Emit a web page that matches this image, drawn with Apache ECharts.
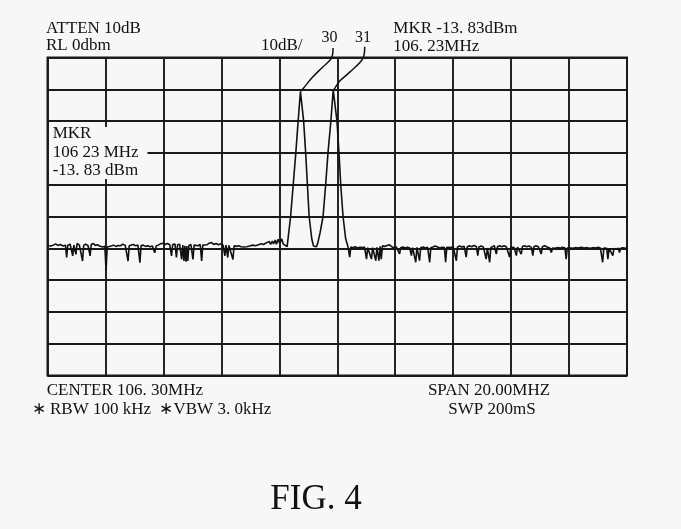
<!DOCTYPE html>
<html>
<head>
<meta charset="utf-8">
<script src="https://cdn.jsdelivr.net/npm/echarts@6/dist/echarts.min.js"></script>
<style>
html,body{margin:0;padding:0;background:#f7f7f7;}
#chart{width:681px;height:529px;}
</style>
</head>
<body>
<div id="chart"></div>
<script>
// ---- Instrument settings ----
const CENTER_MHZ = 106.30;
const SPAN_MHZ = 20;
const REF_LEVEL_DBM = 0;
const DB_PER_DIV = 10;
const X_DIVS = 10;
const Y_DIVS = 10;

// ---- Trace: [frequency MHz, level dBm] ----
const noiseLeft = [
[96.30,-59.2],[96.36,-58.8],[96.42,-59.3],[96.50,-59.0],[96.58,-58.6],[96.66,-59.1],[96.74,-58.8],[96.84,-59.3],[96.92,-59.0],[96.96,-62.9],[97.00,-59.0],[97.08,-58.7],[97.14,-59.2],[97.17,-62.4],[97.21,-59.0],[97.25,-58.9],[97.28,-61.9],[97.32,-58.5],[97.40,-59.0],[97.46,-58.6],[97.51,-64.0],[97.55,-59.0],[97.62,-58.7],[97.70,-59.2],[97.77,-62.4],[97.81,-58.8],[97.88,-58.5],[97.95,-59.1],[98.02,-58.9],[98.10,-59.3],[98.20,-59.6],[98.28,-59.4],[98.32,-67.1],[98.36,-59.6],[98.42,-59.1],[98.50,-59.3],[98.58,-59.0],[98.66,-59.4],[98.74,-59.1],[98.82,-59.2],[98.90,-58.7],[98.98,-59.0],[99.04,-59.3],[99.08,-64.0],[99.12,-59.2],[99.18,-59.0],[99.26,-58.8],[99.34,-59.2],[99.42,-59.0],[99.49,-64.5],[99.53,-59.1],[99.60,-59.0],[99.68,-59.4],[99.76,-59.2],[99.84,-59.5],[99.92,-59.3],[100.00,-61.4],[100.05,-59.3],[100.12,-59.0],[100.20,-58.6],[100.28,-58.4],[100.36,-58.8],[100.44,-58.5],[100.52,-58.9],[100.58,-62.4],[100.62,-58.8],[100.70,-58.7],[100.75,-62.9],[100.79,-58.9],[100.86,-58.7],[100.93,-63.5],[100.97,-59.0],[101.01,-64.0],[101.04,-59.2],[101.08,-64.2],[101.11,-59.3],[101.14,-64.0],[101.18,-59.1],[101.25,-58.8],[101.32,-63.5],[101.36,-59.0],[101.42,-58.9],[101.50,-59.2],[101.57,-58.8],[101.62,-64.0],[101.66,-59.0],[101.72,-58.7],[101.80,-58.9],[101.88,-58.4],[101.96,-58.2],[102.04,-58.8],[102.12,-58.5],[102.20,-58.9],[102.28,-58.6],[102.36,-59.0],[102.42,-62.4],[102.46,-59.0],[102.52,-62.9],[102.56,-59.1],[102.62,-59.0],[102.70,-63.5],[102.74,-59.2],[102.82,-59.4],[102.90,-59.2],[102.98,-59.5],[103.08,-59.6],[103.18,-59.5],[103.28,-59.3],[103.38,-59.0],[103.48,-59.2],[103.58,-58.9],[103.68,-58.6],[103.76,-58.8],[103.84,-58.3],[103.90,-58.7],[103.96,-57.9],[104.00,-58.8],[104.06,-57.7],[104.10,-58.6],[104.16,-57.4],[104.20,-58.7],[104.26,-57.2],[104.32,-58.5],[104.38,-57.0],[104.44,-58.7],[104.50,-58.9]
];
const signalPeaks = [
[104.57,-59.5],[104.69,-50],[104.78,-40],[104.87,-30],[104.95,-20],[105.03,-10.7],[105.14,-20],[105.21,-30],[105.27,-40],[105.33,-50],[105.42,-57.0],[105.48,-59.3],[105.52,-59.8],[105.58,-59.5],[105.63,-58.3],[105.71,-55.0],[105.81,-50],[105.90,-40],[105.98,-30],[106.08,-20],[106.16,-10.2],[106.29,-20],[106.36,-30],[106.42,-40],[106.50,-50],[106.59,-57.0]
];
const noiseRight = [
[106.67,-59.5],[106.73,-62.8],[106.77,-59.6],[106.84,-59.8],[106.92,-59.5],[107.00,-59.9],[107.08,-59.7],[107.16,-59.8],[107.24,-59.6],[107.31,-63.4],[107.35,-59.8],[107.39,-59.6],[107.48,-63.4],[107.52,-59.8],[107.56,-59.5],[107.63,-63.9],[107.67,-59.7],[107.70,-59.6],[107.74,-63.9],[107.78,-59.4],[107.82,-63.4],[107.86,-59.2],[107.94,-59.4],[108.02,-59.1],[108.10,-58.9],[108.18,-59.5],[108.26,-59.8],[108.34,-59.6],[108.40,-59.9],[108.45,-61.8],[108.49,-59.8],[108.56,-59.6],[108.64,-59.9],[108.72,-59.7],[108.80,-59.9],[108.86,-62.3],[108.90,-59.8],[108.94,-59.6],[109.01,-64.4],[109.05,-59.7],[109.09,-59.9],[109.14,-63.9],[109.18,-59.8],[109.26,-59.6],[109.34,-59.9],[109.42,-59.7],[109.49,-64.4],[109.53,-59.8],[109.60,-59.6],[109.68,-59.3],[109.76,-59.6],[109.84,-59.9],[109.92,-59.7],[110.00,-59.8],[110.04,-64.4],[110.08,-59.7],[110.14,-59.5],[110.22,-59.8],[110.30,-59.4],[110.36,-59.7],[110.41,-63.9],[110.45,-59.6],[110.52,-59.3],[110.60,-59.6],[110.68,-59.4],[110.75,-62.8],[110.79,-59.5],[110.86,-59.2],[110.94,-59.5],[111.02,-59.1],[111.10,-59.4],[111.15,-62.3],[111.19,-59.6],[111.26,-59.3],[111.34,-59.6],[111.40,-59.8],[111.44,-63.4],[111.48,-59.9],[111.52,-59.7],[111.56,-64.4],[111.60,-59.8],[111.66,-59.6],[111.72,-59.2],[111.79,-61.8],[111.83,-59.5],[111.90,-59.2],[111.98,-59.5],[112.06,-59.2],[112.14,-59.6],[112.20,-59.8],[112.25,-62.8],[112.29,-59.8],[112.35,-59.5],[112.40,-59.7],[112.48,-62.3],[112.52,-59.6],[112.56,-59.5],[112.65,-61.8],[112.69,-59.4],[112.76,-59.2],[112.84,-59.5],[112.92,-59.3],[113.00,-59.7],[113.05,-62.3],[113.09,-59.5],[113.16,-59.2],[113.24,-59.5],[113.30,-59.7],[113.34,-61.8],[113.38,-59.5],[113.46,-59.2],[113.54,-59.6],[113.62,-59.8],[113.69,-61.3],[113.73,-59.9],[113.80,-60.0],[113.90,-59.8],[114.00,-59.9],[114.08,-59.7],[114.16,-59.9],[114.20,-63.4],[114.24,-59.9],[114.32,-59.8],[114.42,-60.0],[114.52,-59.8],[114.62,-59.9],[114.72,-59.7],[114.82,-59.9],[114.92,-59.8],[115.02,-60.0],[115.12,-59.8],[115.22,-59.9],[115.30,-59.7],[115.38,-59.9],[115.46,-64.4],[115.50,-59.9],[115.56,-60.2],[115.60,-60.0],[115.64,-63.4],[115.68,-60.0],[115.74,-60.3],[115.81,-62.3],[115.85,-60.1],[115.92,-60.2],[116.00,-60.0],[116.04,-61.3],[116.08,-60.0],[116.16,-59.8],[116.24,-60.0],[116.30,-59.9]
];

// ---- Reference leader curves (offset from centre MHz, dBm) ----
const leader30 = [[-0.145,3.0],[-0.20,-0.2],[-0.50,-3.0],[-0.88,-6.45],[-1.16,-9.6],[-1.27,-10.7]];
const leader31 = [[0.948,3.4],[0.890,-0.2],[0.431,-4.6],[0.086,-7.4],[-0.086,-9.7],[-0.145,-10.2]];

// ---- Annotation texts ----
const topLeftLines = ['ATTEN 10dB', 'RL 0dbm'];
const scaleLabel = '10dB/';
const refLabels = ['30', '31'];
const topRightLines = ['MKR -13. 83dBm', '106. 23MHz'];
const markerBoxLines = ['MKR', '106 23 MHz', '-13. 83 dBm'];
const bottomLeftLines = ['CENTER 106. 30MHz', '\u2217 RBW 100 kHz  \u2217VBW 3. 0kHz'];
const bottomRightLines = ['SPAN 20.00MHZ', 'SWP 200mS'];
const figLabel = 'FIG. 4';

const half = SPAN_MHZ / 2;
const trace = noiseLeft.concat(signalPeaks, noiseRight).map(p => [+(p[0] - CENTER_MHZ).toFixed(3), p[1]]);

const FONT = '"Liberation Serif","Times New Roman",serif';
const INK = '#111';
function txt(text, x, baseline, size, align) {
  return {
    type: 'text', z: 110,
    style: {
      text: text, x: x, y: baseline - 0.84 * size,
      font: size + 'px ' + FONT, fill: INK,
      align: align || 'left', verticalAlign: 'top'
    }
  };
}

const chart = echarts.init(document.getElementById('chart'));
chart.setOption({
  backgroundColor: '#f7f7f7',
  animation: false,
  grid: {
    left: 47.5, top: 57.5, width: 579.5, height: 318,
    show: true, borderColor: '#1a1a1a', borderWidth: 2, backgroundColor: 'transparent'
  },
  xAxis: {
    type: 'value', min: -half, max: half, interval: SPAN_MHZ / X_DIVS,
    axisLine: { show: false }, axisTick: { show: false }, axisLabel: { show: false },
    splitLine: { show: true, lineStyle: { color: '#1a1a1a', width: 1.9 } }
  },
  yAxis: {
    type: 'value', min: REF_LEVEL_DBM - DB_PER_DIV * Y_DIVS, max: REF_LEVEL_DBM, interval: DB_PER_DIV,
    axisLine: { show: false }, axisTick: { show: false }, axisLabel: { show: false },
    splitLine: { show: true, lineStyle: { color: '#1a1a1a', width: 1.9 } }
  },
  series: [
    { type: 'line', data: trace, symbol: 'none', z: 5,
      lineStyle: { color: '#111', width: 1.6 } },
    { type: 'line', data: leader30, symbol: 'none', smooth: 0.35, clip: false, z: 6,
      lineStyle: { color: '#111', width: 1.5 } },
    { type: 'line', data: leader31, symbol: 'none', smooth: 0.35, clip: false, z: 6,
      lineStyle: { color: '#111', width: 1.5 } }
  ],
  graphic: [
    { type: 'rect', z: 100, shape: { x: 49, y: 127, width: 98.5, height: 52 }, style: { fill: '#f7f7f7' } },
    txt(topLeftLines[0], 46, 34, 17),
    txt(topLeftLines[1], 46, 51.7, 17),
    txt(scaleLabel, 261, 51.7, 17),
    txt(refLabels[0], 321.5, 43, 16),
    txt(refLabels[1], 355, 43, 16),
    txt(topRightLines[0], 393.3, 34, 17),
    txt(topRightLines[1], 393.3, 52.5, 17),
    txt(markerBoxLines[0], 52.7, 139.3, 17),
    txt(markerBoxLines[1], 52.7, 158, 17),
    txt(markerBoxLines[2], 52.7, 176, 17),
    txt(bottomLeftLines[0], 46.7, 396.7, 17),
    txt(bottomLeftLines[1], 31.7, 415, 17),
    txt(bottomRightLines[0], 489, 396.7, 17, 'center'),
    txt(bottomRightLines[1], 492, 415, 17, 'center'),
    txt(figLabel, 316, 511.7, 35, 'center')
  ]
});
</script>
</body>
</html>
